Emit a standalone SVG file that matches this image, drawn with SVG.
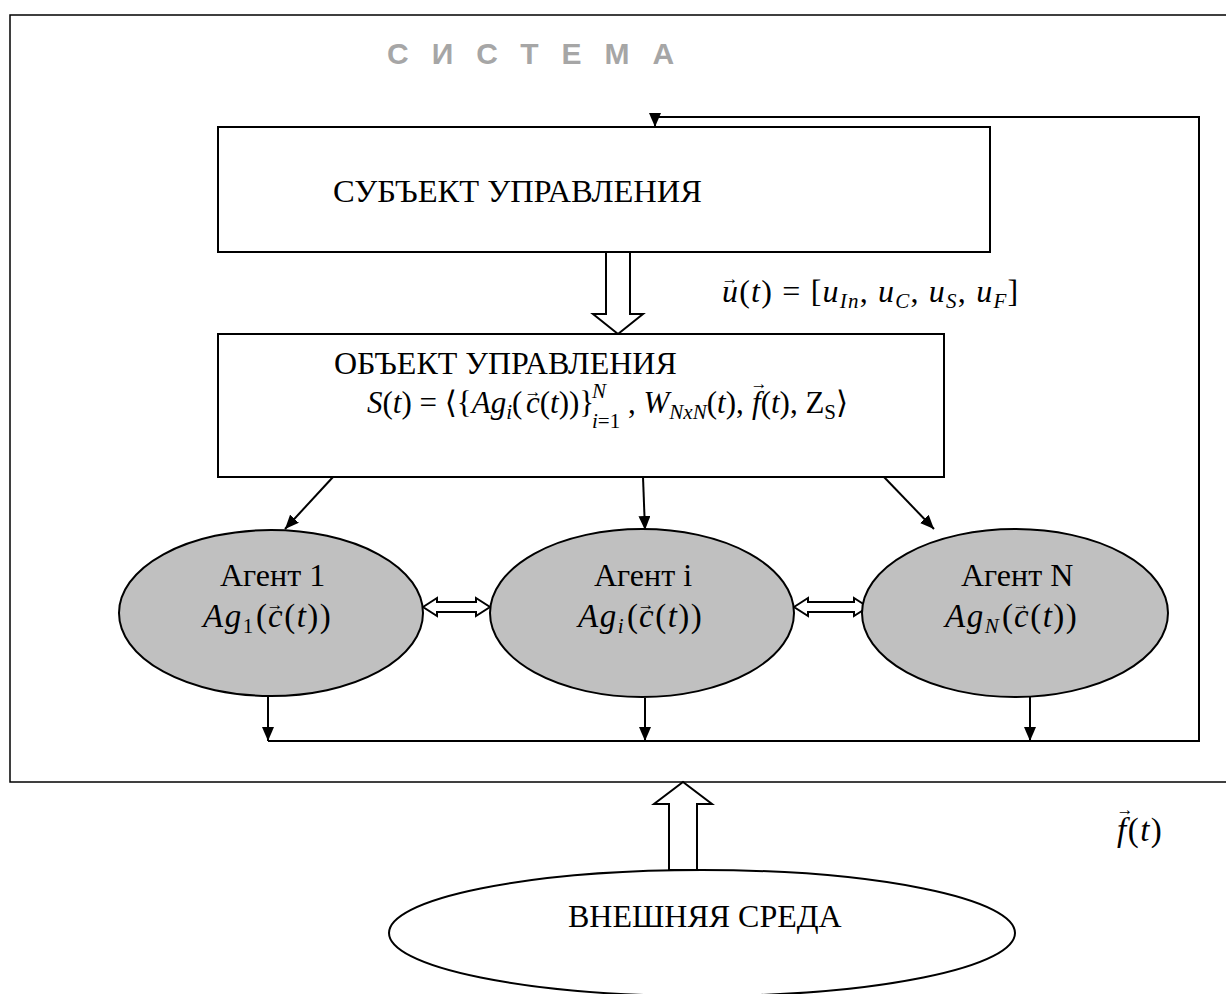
<svg xmlns="http://www.w3.org/2000/svg" width="1226" height="994" viewBox="0 0 1226 994">
<defs>
<marker id="ah" markerWidth="14" markerHeight="12" refX="14" refY="6" orient="auto" markerUnits="userSpaceOnUse">
<path d="M0,0 L14,6 L0,12 Z" fill="#000"/>
</marker>
<style>
.frame{fill:none;stroke:#000;stroke-width:1.5}
.box{fill:#fff;stroke:#000;stroke-width:2}
.ag{fill:#c0c0c0;stroke:#000;stroke-width:2}
.env{fill:#fff;stroke:#000;stroke-width:2}
.ln{fill:none;stroke:#000;stroke-width:2}
.hol{fill:#fff;stroke:#000;stroke-width:2;stroke-linejoin:miter}
.t{font-family:"Liberation Serif","Times New Roman",serif;font-size:32px;fill:#000}
.m{font-family:"Liberation Serif","DejaVu Serif",serif;font-size:32px;font-style:italic;fill:#000}
.f{font-size:31px}
.a{font-size:33px;letter-spacing:1.5px}
.u{letter-spacing:1.2px}
.r{font-style:normal}
.s{font-size:21px}
.vec{font-family:"Liberation Serif","DejaVu Serif",serif;font-size:17px;text-anchor:middle;fill:#000}
.title{font-family:"Liberation Sans",Arial,sans-serif;font-size:30px;font-weight:bold;fill:#a6a6a6;letter-spacing:23px}
</style>
</defs>
<g id="system">
<rect class="frame" x="10" y="15" width="1225" height="767"/>
<text class="title" x="387" y="64">СИСТЕМА</text>
</g>
<g id="connectors">
<polyline class="ln" points="268,741 1199,741 1199,117 655,117 655,127" marker-end="url(#ah)"/>
<line class="ln" x1="268" y1="697" x2="268" y2="741" marker-end="url(#ah)"/>
<line class="ln" x1="645" y1="698" x2="645" y2="741" marker-end="url(#ah)"/>
<line class="ln" x1="1030" y1="697" x2="1030" y2="741" marker-end="url(#ah)"/>
<line class="ln" x1="333" y1="477" x2="285" y2="529" marker-end="url(#ah)"/>
<line class="ln" x1="643" y1="477" x2="645" y2="530" marker-end="url(#ah)"/>
<line class="ln" x1="884" y1="477" x2="934" y2="529" marker-end="url(#ah)"/>
<polygon class="hol" points="606,252 630,252 630,314 643,314 618,334 593,314 606,314"/>
<polygon class="hol" points="669,870 697,870 697,804 712,804 683,782 654,804 669,804"/>
<polygon class="hol" points="423,607 437,598 437,602 476,602 476,598 490,607 476,616 476,612 437,612 437,616"/>
<polygon class="hol" points="794,607 808,598 808,602 854,602 854,598 868,607 854,616 854,612 808,612 808,616"/>
</g>
<g id="subject">
<rect class="box" x="218" y="127" width="772" height="125"/>
<text class="t" x="333" y="202" style="font-size:32.5px">СУБЪЕКТ УПРАВЛЕНИЯ</text>
</g>
<g id="control-label">
<text class="m u" x="722" y="302">u<tspan class="r">(</tspan>t<tspan class="r">) = [</tspan>u<tspan class="s" dy="6">In</tspan><tspan class="r" dy="-6">, </tspan>u<tspan class="s" dy="6">C</tspan><tspan class="r" dy="-6">, </tspan>u<tspan class="s" dy="6">S</tspan><tspan class="r" dy="-6">, </tspan>u<tspan class="s" dy="6">F</tspan><tspan class="r" dy="-6">]</tspan></text>
<text class="vec" x="730" y="284">→</text>
</g>
<g id="object">
<rect class="box" x="218" y="334" width="726" height="143"/>
<text class="t" x="334" y="374">ОБЪЕКТ УПРАВЛЕНИЯ</text>
<text class="m f" x="367" y="413">S<tspan class="r">(</tspan>t<tspan class="r">) = ⟨{</tspan>Ag<tspan class="s" dy="6">i</tspan><tspan class="r" dy="-6" x="512">(</tspan><tspan x="526">c</tspan><tspan class="r">(</tspan>t<tspan class="r">))}</tspan></text>
<text class="vec" x="533" y="397">→</text>
<text class="m s" x="592" y="398">N</text>
<text class="m s" x="592" y="428">i<tspan class="r">=1</tspan></text>
<text class="m f" x="628" y="413"><tspan class="r">, </tspan>W<tspan class="s" dy="6">NxN</tspan><tspan class="r" dy="-6">(</tspan>t<tspan class="r">), </tspan><tspan x="752">f</tspan><tspan class="r">(</tspan>t<tspan class="r">), Z</tspan><tspan class="s r" dy="6">S</tspan><tspan class="r" dy="-6">⟩</tspan></text>
<text class="vec" x="759" y="389">→</text>
</g>
<g id="agent-1">
<ellipse class="ag" cx="271" cy="613" rx="152" ry="83"/>
<text class="t" x="220" y="586">Агент 1</text>
<text class="m a" x="203" y="627">Ag<tspan class="s r" dy="6">1</tspan><tspan class="r" dy="-6" x="256">(</tspan><tspan x="268">c</tspan><tspan class="r">(</tspan>t<tspan class="r">))</tspan></text>
<text class="vec" x="275" y="610">→</text>
</g>
<g id="agent-i">
<ellipse class="ag" cx="642" cy="613" rx="152" ry="84"/>
<text class="t" x="594" y="586">Агент i</text>
<text class="m a" x="578" y="627">Ag<tspan class="s" dy="6">i</tspan><tspan class="r" dy="-6" x="627">(</tspan><tspan x="639">c</tspan><tspan class="r">(</tspan>t<tspan class="r">))</tspan></text>
<text class="vec" x="646" y="610">→</text>
</g>
<g id="agent-n">
<ellipse class="ag" cx="1015" cy="613" rx="153" ry="84"/>
<text class="t" x="961" y="586">Агент N</text>
<text class="m a" x="945" y="627">Ag<tspan class="s" dy="6">N</tspan><tspan class="r" dy="-6" x="1002">(</tspan><tspan x="1014">c</tspan><tspan class="r">(</tspan>t<tspan class="r">))</tspan></text>
<text class="vec" x="1021" y="610">→</text>
</g>
<g id="environment">
<ellipse class="env" cx="702" cy="933" rx="313" ry="63"/>
<text class="t" x="568" y="927">ВНЕШНЯЯ СРЕДА</text>
</g>
<g id="env-label">
<text class="m a" x="1117" y="841">f<tspan class="r">(</tspan>t<tspan class="r">)</tspan></text>
<text class="vec" x="1125" y="815">→</text>
</g>
</svg>
